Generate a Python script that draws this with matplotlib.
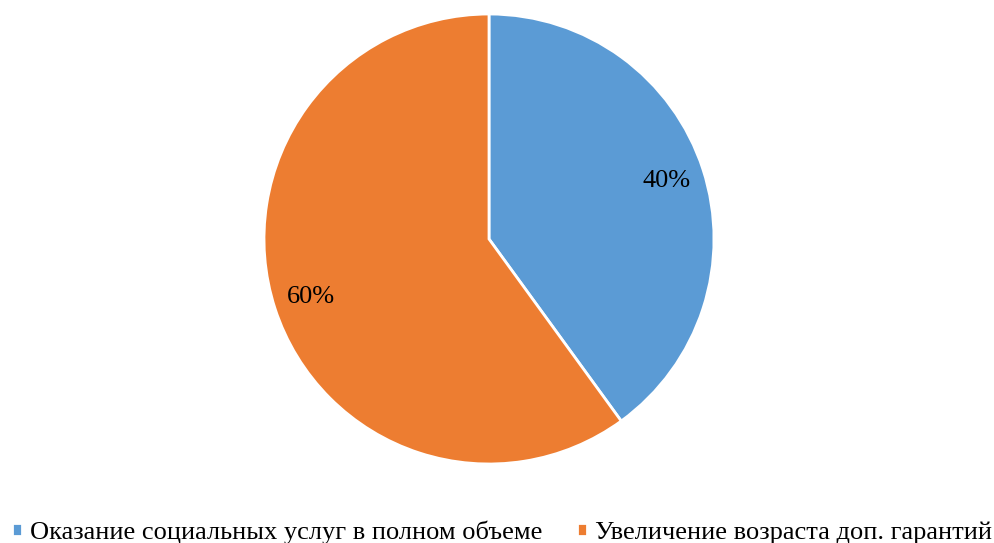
import matplotlib.pyplot as plt

labels = ['Оказание социальных услуг в полном объеме', 'Увеличение возраста доп. гарантий']
values = [40, 60]
colors = ['#5B9BD5', '#ED7D31']

plt.rcParams['font.family'] = ['Liberation Serif', 'DejaVu Serif']

fig = plt.figure(figsize=(9.94, 5.43), dpi=100)
ax = fig.add_axes([0.2656, 0.1455, 0.4527, 0.8287])
wedges, texts, autotexts = ax.pie(values, colors=colors, startangle=90, counterclock=False,
                                  autopct='%1.0f%%', pctdistance=0.83,
                                  wedgeprops={'edgecolor': 'white', 'linewidth': 2},
                                  textprops={'fontsize': 19, 'color': 'black'})
ax.set_xlim(-1, 1)
ax.set_ylim(-1, 1)
ax.set_aspect('equal')

leg = fig.legend(wedges, labels, loc='lower center', bbox_to_anchor=(0.505, -0.045), ncol=2,
                 frameon=False, fontsize=19, handlelength=0.4, handleheight=0.4,
                 handletextpad=0.3, columnspacing=1.3)

plt.savefig('out.png', dpi=100)
